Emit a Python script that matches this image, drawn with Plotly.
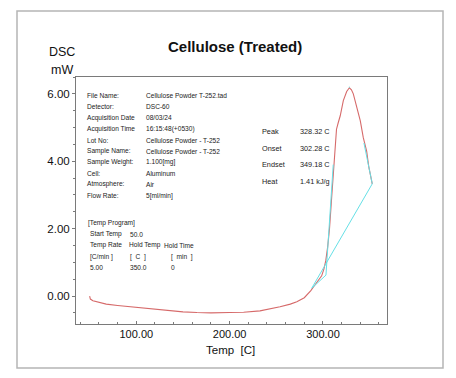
import plotly.graph_objects as go

# ---- data ----
temp = [50.0, 50.4, 50.8, 53.5, 60, 67.8, 80, 100, 120, 135.6, 150, 165, 180, 200, 215,
        232.5, 245, 254, 265, 272, 280, 284.2, 287, 289.6, 293, 296, 298.6, 301, 303,
        305, 307, 309, 311, 312.9, 314.5, 316.4, 318.5, 321.8, 325.4, 328.3, 330.5,
        332.5, 335, 337.8, 340, 343.2, 346.8, 349, 351, 352.8]
dsc = [0.00, -0.05, -0.09, -0.14, -0.19, -0.24, -0.28, -0.34, -0.40, -0.44, -0.47, -0.49,
       -0.50, -0.49, -0.48, -0.44, -0.38, -0.32, -0.24, -0.17, -0.05, 0.06, 0.16, 0.26,
       0.38, 0.48, 0.60, 0.80, 1.05, 1.45, 2.0, 2.8, 3.7, 4.5, 4.95, 5.15, 5.35, 5.80,
       6.07, 6.18, 6.12, 6.00, 5.75, 5.42, 5.20, 4.70, 4.30, 3.85, 3.60, 3.33]

base_t = [287.9, 352.8]
base_d = [0.23, 3.33]
onset_t = [287.9, 303.2, 311.0]
onset_d = [0.23, 0.62, 3.9]
endset_t = [343.9, 352.8]
endset_d = [4.54, 3.33]
peak_t = [327.8, 328.8]
peak_d = [6.20, 6.20]

info_labels = ["File Name:", "Detector:", "Acquisition Date", "Acquisition Time", "Lot No:",
               "Sample Name:", "Sample Weight:", "Cell:", "Atmosphere:", "Flow Rate:"]
info_values = ["Cellulose Powder T-252.tad", "DSC-60", "08/03/24", "16:15:48(+0530)",
               "Cellulose Powder - T-252", "Cellulose Powder - T-252", "1.100[mg]",
               "Aluminum", "Air", "5[ml/min]"]
res_labels = ["Peak", "Onset", "Endset", "Heat"]
res_values = ["328.32 C", "302.28 C", "349.18 C", "1.41 kJ/g"]

W, H = 456, 378
L, R, T, B = 76, 387, 77, 324
FONT = "Liberation Sans, Arial, Helvetica, sans-serif"


def px(x):
    return (x - L) / (R - L)


def py(y):
    return (B - y) / (B - T)


red = "#d66a6a"
cyan = "#66e0e6"
axc = "#7a7a7a"

fig = go.Figure()
fig.add_trace(go.Scatter(x=temp, y=dsc, mode="lines", line=dict(color=red, width=1.1),
                         hoverinfo="skip"))
for xs, ys in [(base_t, base_d), (onset_t, onset_d), (endset_t, endset_d), (peak_t, peak_d)]:
    fig.add_trace(go.Scatter(x=xs, y=ys, mode="lines", line=dict(color=cyan, width=1),
                             hoverinfo="skip"))

ann = []


def text(x, y, s, size, xanchor="left", color="#222"):
    ann.append(dict(x=px(x), y=py(y), xref="paper", yref="paper", text=s, showarrow=False,
                    xanchor=xanchor, yanchor="middle",
                    font=dict(size=size, family=FONT, color=color)))


FS = 6.6
info_y = [95, 106.7, 117.7, 129, 140, 151, 162.3, 173.3, 184.3, 195.7]
for yy, a, b in zip(info_y, info_labels, info_values):
    text(85, yy, a, FS)
    text(143.5, yy, b, FS)

text(86, 222.7, "[Temp Program]", FS)
text(88, 234, "Start Temp", FS)
text(127.5, 234, "50.0", FS)
text(88, 245, "Temp Rate", FS)
text(126.5, 245, "Hold Temp", FS)
text(161.5, 245, "Hold Time", FS)
text(88, 256.5, "[C/min ]", FS)
text(127.5, 256.5, "[  C  ]", FS)
text(169, 256.5, "[  min  ]", FS)
text(88, 267.3, "5.00", FS)
text(127.5, 267.3, "350.0", FS)
text(169, 267.3, "0", FS)

res_y = [131.5, 148, 164.5, 181]
for yy, a, b in zip(res_y, res_labels, res_values):
    text(259.5, yy, a, 7.3)
    text(297.5, yy, b, 7.3)

text(235, 47, "<b>Cellulose (Treated)</b>", 15, xanchor="center", color="#111")
text(62, 52.5, "DSC", 12.5, xanchor="center", color="#111")
text(62, 69.5, "mW", 12.5, xanchor="center", color="#111")
text(230.5, 349.5, "Temp  [C]", 11.5, xanchor="center", color="#111")

fig.update_layout(
    width=W, height=H, margin=dict(l=L, r=W - R, t=T, b=H - B),
    paper_bgcolor="white", plot_bgcolor="white", showlegend=False,
    annotations=ann,
    shapes=[dict(type="rect", xref="paper", yref="paper",
                 x0=px(17), x1=px(443), y0=py(368), y1=py(11),
                 line=dict(color="#b5b5b5", width=1.5), layer="below")],
    xaxis=dict(range=[35.4, 368.6], tick0=0, dtick=100, tickformat=".2f",
               showline=True, mirror=True, linecolor=axc, linewidth=1,
               showgrid=False, zeroline=False, ticks="inside", ticklen=3,
               tickcolor=axc,
               tickfont=dict(size=11, family=FONT, color="#111"),
               minor=dict(dtick=20, ticks="inside", ticklen=2, tickcolor=axc)),
    yaxis=dict(range=[-0.83, 6.5], tick0=0, dtick=2, tickformat=".2f",
               showline=True, mirror=True, linecolor=axc, linewidth=1,
               showgrid=False, zeroline=False, ticks="outside", ticklen=3,
               tickcolor=axc,
               tickfont=dict(size=11.5, family=FONT, color="#111"),
               minor=dict(dtick=0.5, ticks="outside", ticklen=2, tickcolor=axc)),
)

fig.write_html("out.html", config={"displayModeBar": False},
               post_script="document.body.style.margin='0';")
